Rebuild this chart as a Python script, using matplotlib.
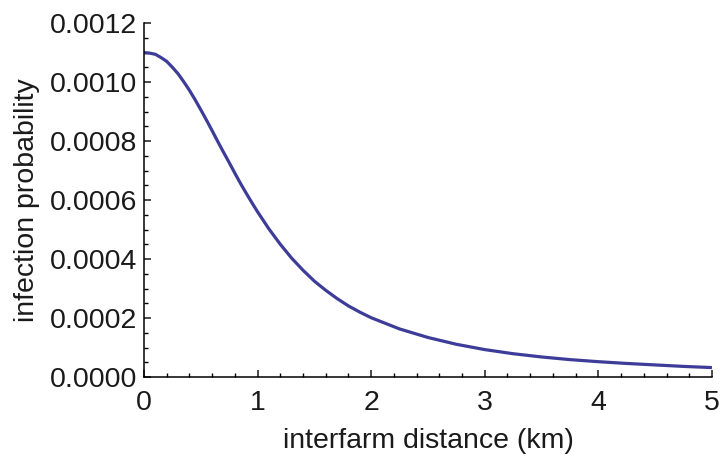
import matplotlib
matplotlib.use("Agg")
import matplotlib.pyplot as plt
from matplotlib.ticker import MultipleLocator, FormatStrFormatter

# distancia entre granjas (km) y probabilidad (x 1e-4)
distancia = [0.0, 0.05, 0.1, 0.15, 0.2, 0.25, 0.3, 0.35, 0.4, 0.45,
             0.5, 0.55, 0.6, 0.65, 0.7, 0.75, 0.8, 0.85, 0.9, 0.95,
             1.0, 1.1, 1.2, 1.3, 1.4, 1.5, 1.6, 1.7, 1.8, 1.9,
             2.0, 2.25, 2.5, 2.75, 3.0, 3.25, 3.5, 3.75, 4.0,
             4.25, 4.5, 4.75, 5.0]
probabilidad = [11.0, 10.98, 10.94, 10.83, 10.7, 10.5, 10.28, 10.01, 9.72, 9.4,
                9.06, 8.71, 8.35, 7.98, 7.62, 7.27, 6.91, 6.56, 6.23, 5.91,
                5.6, 5.02, 4.5, 4.03, 3.62, 3.25, 2.94, 2.66, 2.41, 2.2,
                2.01, 1.63, 1.34, 1.11, 0.93, 0.79, 0.68, 0.59, 0.52,
                0.46, 0.41, 0.36, 0.32]
probabilidad = [p * 1e-4 for p in probabilidad]

plt.rcParams['font.family'] = ['Liberation Sans', 'DejaVu Sans']

fig = plt.figure(figsize=(7.25, 4.57), dpi=100)
ax = fig.add_axes([0.1986, 0.175, 0.7834, 0.7746])

ax.plot(distancia, probabilidad, color="#3d3d99", lw=2.3, solid_capstyle="butt",
        solid_joinstyle="round")

ax.set_xlim(0, 5)
ax.set_ylim(0, 0.0012)
ax.xaxis.set_major_locator(MultipleLocator(1))
ax.xaxis.set_minor_locator(MultipleLocator(0.2))
ax.yaxis.set_major_locator(MultipleLocator(0.0002))
ax.yaxis.set_minor_locator(MultipleLocator(0.00005))
ax.yaxis.set_major_formatter(FormatStrFormatter("%.4f"))

for s in ["top", "right"]:
    ax.spines[s].set_visible(False)
for s in ["left", "bottom"]:
    ax.spines[s].set_linewidth(1.1)

ax.tick_params(which="major", direction="in", length=5, width=1.1, labelsize=20.5,
               colors="#1a1a1a")
ax.tick_params(which="minor", direction="in", length=3, width=1.0)
ax.tick_params(axis="x", which="major", pad=9)
ax.tick_params(axis="y", which="major", pad=5)

ax.set_xlabel("interfarm distance (km)", fontsize=20.5, color="#1a1a1a", labelpad=9)
ax.set_ylabel("infection probability", fontsize=20.5, color="#1a1a1a", labelpad=7)

fig.savefig("out.png", dpi=100)
